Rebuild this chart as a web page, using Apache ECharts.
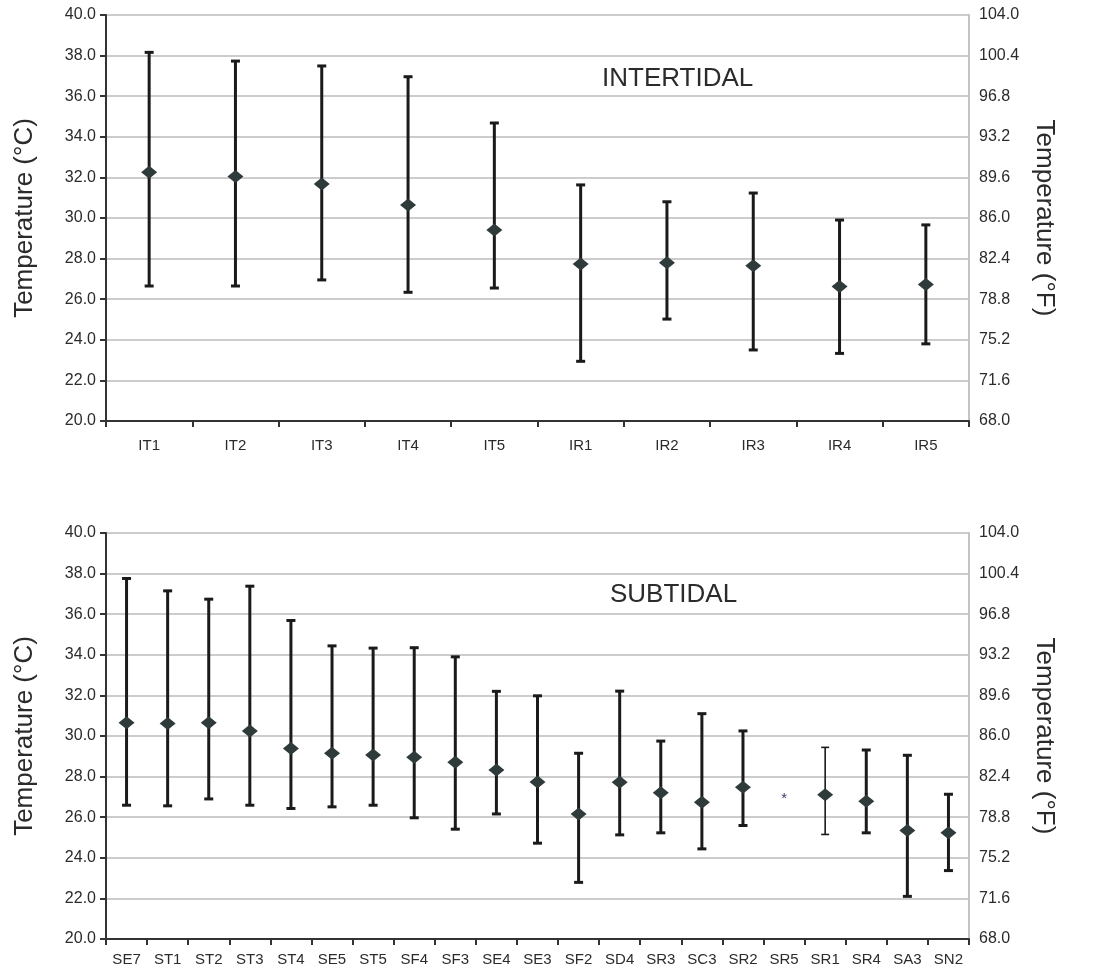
<!DOCTYPE html>
<html>
<head>
<meta charset="utf-8">
<script src="https://cdn.jsdelivr.net/npm/echarts@6/dist/echarts.min.js"></script>
<style>
html,body{margin:0;padding:0;background:#fff;}
#chart{width:1117px;height:974px;}
</style>
</head>
<body>
<div id="chart"></div>
<script>
// ---- Data ----
var topCategories = ['IT1','IT2','IT3','IT4','IT5','IR1','IR2','IR3','IR4','IR5'];
var topMean = [32.25, 32.04, 31.67, 30.64, 29.41, 27.73, 27.80, 27.65, 26.62, 26.73];
var topLow  = [26.65, 26.65, 26.95, 26.34, 26.55, 22.94, 25.02, 23.50, 23.33, 23.80];
var topHigh = [38.16, 37.73, 37.49, 36.96, 34.68, 31.63, 30.80, 31.23, 29.90, 29.66];

var bottomCategories = ['SE7','ST1','ST2','ST3','ST4','SE5','ST5','SF4','SF3','SE4','SE3','SF2','SD4','SR3','SC3','SR2','SR5','SR1','SR4','SA3','SN2'];
var bottomMean = [30.65, 30.62, 30.65, 30.25, 29.38, 29.15, 29.07, 28.95, 28.71, 28.33, 27.74, 26.16, 27.72, 27.20, 26.74, 27.48, 27.06, 27.10, 26.79, 25.34, 25.23];
var bottomLow  = [26.59, 26.56, 26.90, 26.59, 26.43, 26.51, 26.59, 25.97, 25.41, 26.16, 24.72, 22.79, 25.13, 25.23, 24.44, 25.59, null, 25.15, 25.23, 22.10, 23.37];
var bottomHigh = [37.76, 37.15, 36.74, 37.38, 35.69, 34.44, 34.33, 34.35, 33.90, 32.20, 31.98, 29.15, 32.21, 29.75, 31.10, 30.25, null, 29.44, 29.31, 29.05, 27.13];
var thinBarCategories = ['SR1'];

var yTicksC = {min: 20, max: 40, interval: 2};
var panelTitles = ['INTERTIDAL', 'SUBTIDAL'];

// ---- Helpers ----
var FONT = 'Liberation Sans, Arial, sans-serif';
var TEXT = '#2b2b2b';

function errData(cats, low, high) {
  var out = [];
  for (var i = 0; i < cats.length; i++) {
    if (low[i] == null || high[i] == null) continue;
    out.push([i, low[i], high[i], thinBarCategories.indexOf(cats[i]) >= 0 ? 1 : 0]);
  }
  return out;
}
function meanData(cats, mean, low) {
  var out = [];
  for (var i = 0; i < cats.length; i++) {
    if (low[i] == null) {
      out.push({value: [i, mean[i]], symbol: 'circle', symbolSize: 1,
        itemStyle: {color: 'rgba(0,0,0,0)'},
        label: {show: true, formatter: '*', position: 'inside', offset: [0, 3],
          color: '#3a3a6a', fontSize: 15, fontFamily: FONT}});
    } else {
      out.push({value: [i, mean[i]]});
    }
  }
  return out;
}
function renderErr(params, api) {
  var x = api.value(0);
  var lo = api.coord([x, api.value(1)]);
  var hi = api.coord([x, api.value(2)]);
  var thin = api.value(3) === 1;
  var lw = thin ? 1.6 : 3;
  var cap = thin ? 4 : 4.5;
  var st = {stroke: '#1a1a1a', lineWidth: lw};
  return {
    type: 'group',
    children: [
      {type: 'line', shape: {x1: lo[0], y1: lo[1], x2: hi[0], y2: hi[1]}, style: st},
      {type: 'line', shape: {x1: hi[0] - cap, y1: hi[1], x2: hi[0] + cap, y2: hi[1]}, style: st},
      {type: 'line', shape: {x1: lo[0] - cap, y1: lo[1], x2: lo[0] + cap, y2: lo[1]}, style: st}
    ]
  };
}

function xAxis(gi, cats) {
  return {
    type: 'category', gridIndex: gi, data: cats, boundaryGap: true,
    axisLine: {lineStyle: {color: '#333', width: 2}},
    axisTick: {show: true, length: 6, lineStyle: {color: '#333', width: 2}},
    axisLabel: {color: TEXT, fontSize: 15, fontFamily: FONT, margin: gi === 0 ? 17 : 13, interval: 0},
    splitLine: {show: false}
  };
}
function yLeft(gi) {
  return {
    type: 'value', gridIndex: gi, position: 'left',
    min: yTicksC.min, max: yTicksC.max, interval: yTicksC.interval,
    name: 'Temperature (°C)', nameLocation: 'middle', nameGap: 68, nameRotate: 90,
    nameTextStyle: {color: TEXT, fontSize: 26, fontFamily: FONT},
    axisLine: {show: true, lineStyle: {color: '#333', width: 2}},
    axisTick: {show: true, length: 6, lineStyle: {color: '#333', width: 2}},
    axisLabel: {color: TEXT, fontSize: 16, fontFamily: FONT, margin: 10,
      formatter: function (v) { return v.toFixed(1); }},
    splitLine: {show: true, lineStyle: {color: '#cccccc', width: 2}}
  };
}
function yRight(gi) {
  return {
    type: 'value', gridIndex: gi, position: 'right',
    min: yTicksC.min, max: yTicksC.max, interval: yTicksC.interval,
    name: 'Temperature (°F)', nameLocation: 'middle', nameGap: 62, nameRotate: -90,
    nameTextStyle: {color: TEXT, fontSize: 26, fontFamily: FONT},
    axisLine: {show: true, lineStyle: {color: '#c4c4c4', width: 2}},
    axisTick: {show: false},
    axisLabel: {color: TEXT, fontSize: 16, fontFamily: FONT, margin: 10,
      formatter: function (v) { return (v * 1.8 + 32).toFixed(1); }},
    splitLine: {show: false}
  };
}

var option = {
  animation: false,
  backgroundColor: '#ffffff',
  title: [
    {text: panelTitles[0], left: 597, top: 61, textStyle: {color: TEXT, fontSize: 26, fontWeight: 'normal', fontFamily: FONT}},
    {text: panelTitles[1], left: 605, top: 577, textStyle: {color: TEXT, fontSize: 26, fontWeight: 'normal', fontFamily: FONT}}
  ],
  grid: [
    {left: 106, width: 863, top: 15, height: 406},
    {left: 106, width: 863, top: 533, height: 406}
  ],
  xAxis: [xAxis(0, topCategories), xAxis(1, bottomCategories)],
  yAxis: [yLeft(0), yRight(0), yLeft(1), yRight(1)],
  series: [
    {type: 'custom', xAxisIndex: 0, yAxisIndex: 0, renderItem: renderErr,
      data: errData(topCategories, topLow, topHigh), z: 2},
    {type: 'scatter', xAxisIndex: 0, yAxisIndex: 0, symbol: 'diamond', symbolSize: [16, 13],
      itemStyle: {color: '#2f3a3a', opacity: 1}, data: meanData(topCategories, topMean, topLow), z: 3},
    {type: 'custom', xAxisIndex: 1, yAxisIndex: 2, renderItem: renderErr,
      data: errData(bottomCategories, bottomLow, bottomHigh), z: 2},
    {type: 'scatter', xAxisIndex: 1, yAxisIndex: 2, symbol: 'diamond', symbolSize: [16, 13],
      itemStyle: {color: '#2f3a3a', opacity: 1}, data: meanData(bottomCategories, bottomMean, bottomLow), z: 3}
  ]
};

var chart = echarts.init(document.getElementById('chart'), null, {renderer: 'canvas'});
chart.setOption(option);
</script>
</body>
</html>
